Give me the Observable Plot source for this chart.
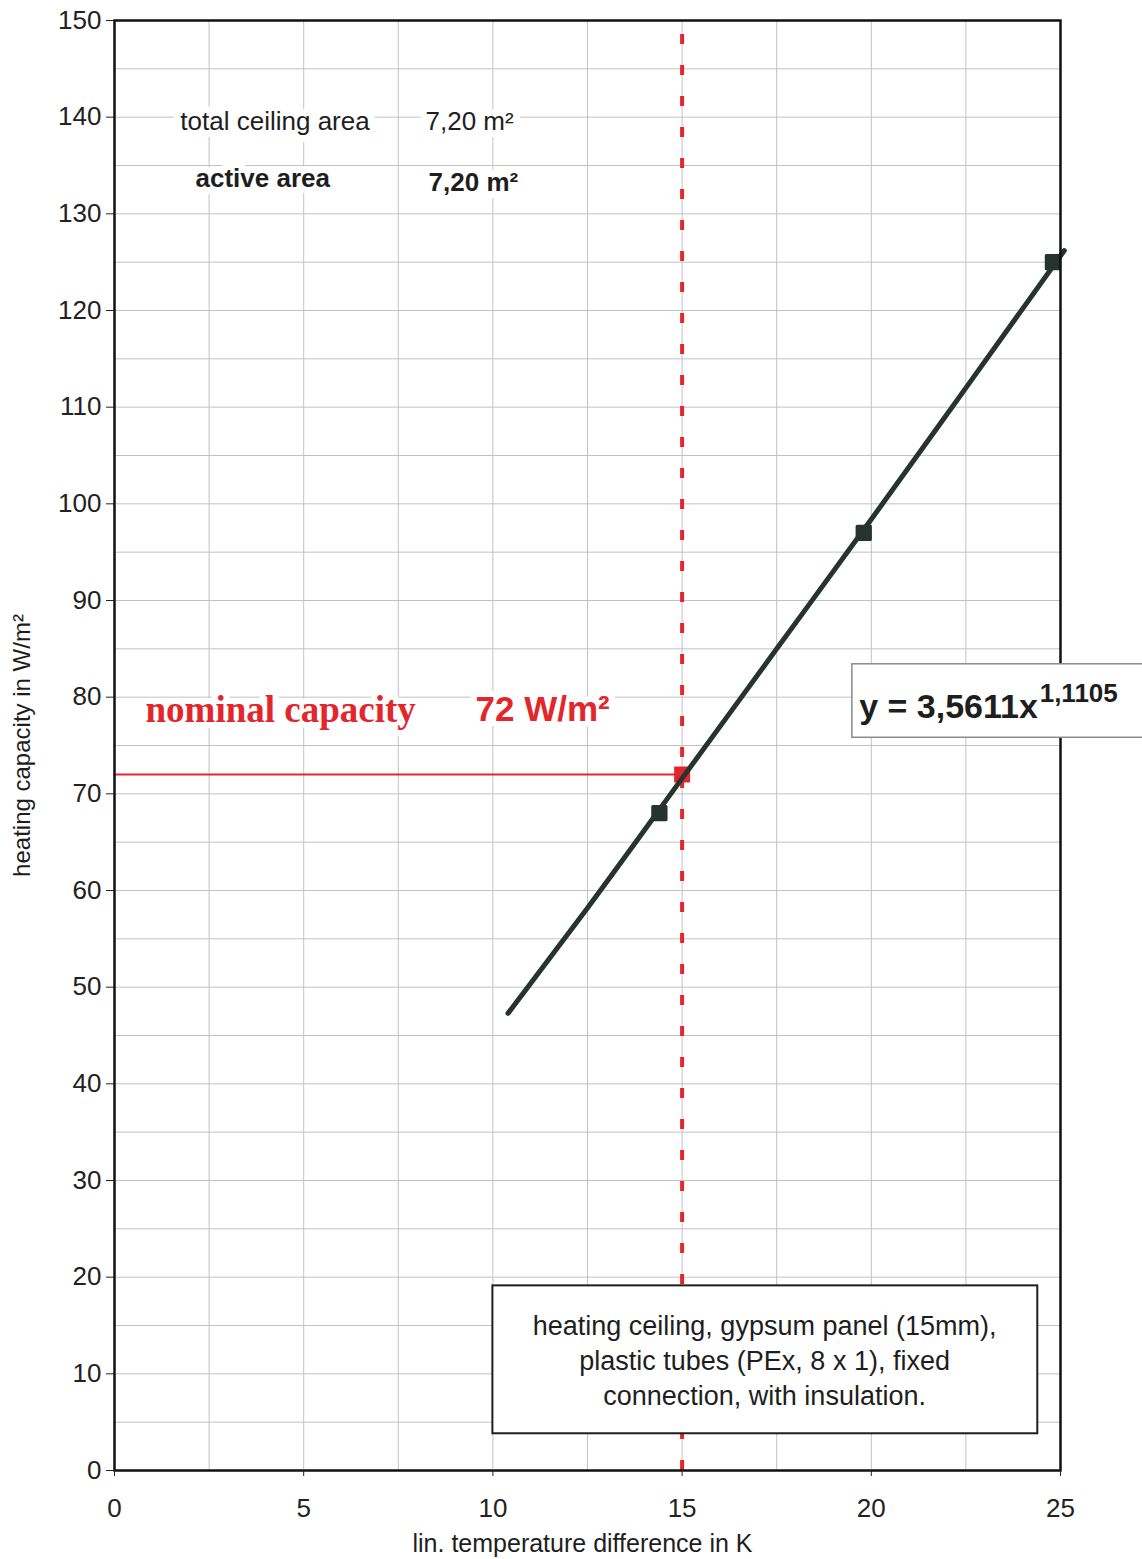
<!DOCTYPE html>
<html>
<head>
<meta charset="utf-8">
<script src="https://cdn.jsdelivr.net/npm/d3@7"></script>
<script src="https://cdn.jsdelivr.net/npm/@observablehq/plot@0.6"></script>
<style>
  html, body { margin: 0; padding: 0; background: #ffffff; }
  #chart svg { display: block; }
</style>
</head>
<body>
<div id="chart"></div>
<script>
// ---- data ----
const xTicks = [0, 5, 10, 15, 20, 25];
const yTicks = [0, 10, 20, 30, 40, 50, 60, 70, 80, 90, 100, 110, 120, 130, 140, 150];
const xGrid = [2.5, 5, 7.5, 10, 12.5, 15, 17.5, 20, 22.5];
const yGrid = [5, 10, 15, 20, 25, 30, 35, 40, 45, 50, 55, 60, 65, 70, 75, 80, 85, 90, 95, 100, 105, 110, 115, 120, 125, 130, 135, 140, 145];

// measured points
const measuredX = [14.4, 19.8, 24.8];
const measuredY = [68, 97, 125];

// trend line
const trendX = [10.4, 12.5, 15, 17.5, 20, 22.5, 25.1];
const trendY = [47.3, 58.2, 71.6, 85, 98.4, 112, 126.2];

// nominal operating point
const nominalX = [15];
const nominalY = [72];

// text labels
const xLabel = "lin. temperature difference in K";
const yLabel = "heating capacity in W/m²";
const infoLabels = ["total ceiling area", "7,20 m²"];
const infoBoldLabels = ["active area", "7,20 m²"];
const nominalLabel = "nominal capacity";
const nominalValueLabel = "72 W/m²";
const equationMain = "y = 3,5611x";
const equationExp = "1,1105";
const descriptionLines = ["heating ceiling, gypsum panel (15mm),", "plastic tubes (PEx, 8 x 1), fixed", "connection, with insulation."];

// ---- build tables ----
const measured = measuredX.map((x, i) => ({x, y: measuredY[i]}));
const trend = trendX.map((x, i) => ({x, y: trendY[i]}));
const nominal = nominalX.map((x, i) => ({x, y: nominalY[i]}));

const RED = "#e3262b";
const INK = "#1e1e1e";
const LINE = "#26332f";

const eqBox = [{x1: 19.5, x2: 27.2, y1: 75.8, y2: 83.4}];
const descBox = [{x1: 10.0, x2: 24.4, y1: 3.8, y2: 19.1}];

const plot = Plot.plot({
  width: 1142,
  height: 1559,
  marginLeft: 114,
  marginRight: 82,
  marginTop: 20,
  marginBottom: 89,
  style: {fontFamily: "'Liberation Sans', Arial, sans-serif", background: "#ffffff", color: INK},
  x: {domain: [0, 25]},
  y: {domain: [0, 150]},
  marks: [
    Plot.gridX(xGrid, {stroke: "#c2c2c2", strokeOpacity: 1, strokeWidth: 1}),
    Plot.gridY(yGrid, {stroke: "#c2c2c2", strokeOpacity: 1, strokeWidth: 1}),

    // info labels top left
    Plot.text([infoLabels[0]], {x: 1.74, y: 139.5, text: d => d, textAnchor: "start", fontSize: 26, fill: INK, stroke: "white", strokeWidth: 14, paintOrder: "stroke"}),
    Plot.text([infoLabels[1]], {x: 8.22, y: 139.5, text: d => d, textAnchor: "start", fontSize: 26, fill: INK, stroke: "white", strokeWidth: 14, paintOrder: "stroke"}),
    Plot.text([infoBoldLabels[0]], {x: 2.14, y: 133.6, text: d => d, textAnchor: "start", fontSize: 26, fontWeight: "bold", fill: INK, stroke: "white", strokeWidth: 14, paintOrder: "stroke"}),
    Plot.text([infoBoldLabels[1]], {x: 8.3, y: 133.2, text: d => d, textAnchor: "start", fontSize: 26, fontWeight: "bold", fill: INK, stroke: "white", strokeWidth: 14, paintOrder: "stroke"}),

    // nominal capacity labels
    Plot.text([nominalLabel], {x: 0.82, y: 78.7, text: d => d, textAnchor: "start", fontSize: 37, fontWeight: "bold", fontFamily: "'Liberation Serif', 'Times New Roman', serif", fill: RED, stroke: "white", strokeWidth: 12, paintOrder: "stroke"}),
    Plot.text([nominalValueLabel], {x: 9.54, y: 78.7, text: d => d, textAnchor: "start", fontSize: 35, fontWeight: "bold", fill: RED, stroke: "white", strokeWidth: 12, paintOrder: "stroke"}),

    // red nominal lines
    Plot.ruleX(nominal, {x: "x", y1: 0, y2: 150, stroke: RED, strokeWidth: 4, strokeDasharray: "10,21"}),
    Plot.ruleY(nominal, {y: "y", x1: 0, x2: "x", stroke: RED, strokeWidth: 2}),
    Plot.dot(nominal, {x: "x", y: "y", symbol: "square", r: 9, fill: RED}),

    // trend line and measured points
    Plot.line(trend, {x: "x", y: "y", stroke: LINE, strokeWidth: 5, strokeLinecap: "round", curve: "monotone-x"}),
    Plot.dot(measured, {x: "x", y: "y", symbol: "square", r: 7.5, fill: LINE, stroke: LINE, strokeWidth: 3, strokeLinejoin: "round"}),

    Plot.frame({stroke: "#111", strokeWidth: 2.5}),

    // equation box
    Plot.rect(eqBox, {x1: "x1", x2: "x2", y1: "y1", y2: "y2", fill: "white", stroke: "#8a8a8a", strokeWidth: 1.5}),
    Plot.text([equationMain], {x: 19.68, y: 79.0, text: d => d, textAnchor: "start", fontSize: 34, fontWeight: "bold", fill: INK}),
    Plot.text([equationExp], {x: 24.45, y: 80.4, text: d => d, textAnchor: "start", fontSize: 26, fontWeight: "bold", fill: INK}),

    // description box
    Plot.rect(descBox, {x1: "x1", x2: "x2", y1: "y1", y2: "y2", fill: "white", stroke: INK, strokeWidth: 2}),
    Plot.text([descriptionLines.join("\n")], {x: 17.18, y: 11.6, text: d => d, textAnchor: "middle", fontSize: 27, lineHeight: 1.3, fill: INK}),

    // axes
    Plot.axisX(xTicks, {tickSize: 6, tickPadding: 22, fontSize: 26, label: null, color: "#222"}),
    Plot.axisY(yTicks, {tickSize: 8, tickPadding: 5, fontSize: 26, label: null, color: "#222"}),

    // axis titles
    Plot.text([xLabel], {frameAnchor: "bottom", dy: 73, dx: -5, textAnchor: "middle", lineAnchor: "middle", text: d => d, fontSize: 25, fill: INK}),
    Plot.text([yLabel], {frameAnchor: "left", dx: -92, textAnchor: "middle", lineAnchor: "middle", text: d => d, fontSize: 24, rotate: -90, fill: INK})
  ]
});

document.getElementById("chart").appendChild(plot);
</script>
</body>
</html>
